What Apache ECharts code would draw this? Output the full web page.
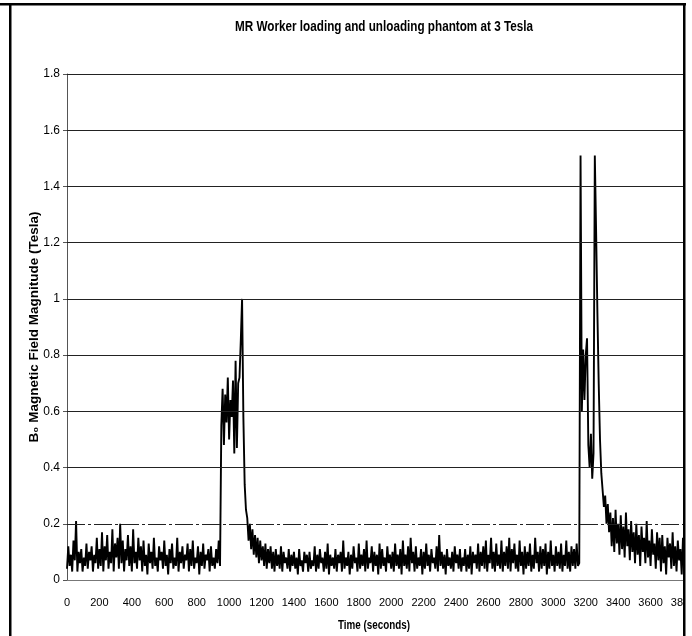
<!DOCTYPE html>
<html>
<head>
<meta charset="utf-8" />
<title>MR Worker loading and unloading phantom at 3 Tesla</title>
<script src="https://cdn.jsdelivr.net/npm/echarts@6/dist/echarts.min.js"></script>
<style>
  html, body { margin: 0; padding: 0; background: #fff; }
  #chart { width: 692px; height: 636px; }
</style>
</head>
<body>
<div id="chart"></div>
<script>
// logger sample interval (seconds)
const sampleStep = 8;

// y grid positions (Tesla)
const yTicks = [0.2, 0.4, 0.6, 0.8, 1.0, 1.2, 1.4, 1.6, 1.8];

// B0 readings in Tesla, one stretch at a time
// 0 - 944 s, before the phantom is moved
const quietBefore = [
  0.04, 0.12, 0.05, 0.09, 0.03, 0.14, 0.07, 0.21, 0.03, 0.10,
  0.06, 0.11, 0.03, 0.08, 0.05, 0.13, 0.04, 0.10, 0.07, 0.12,
  0.03, 0.09, 0.06, 0.15, 0.04, 0.11, 0.05, 0.17, 0.03, 0.12,
  0.07, 0.16, 0.04, 0.10, 0.06, 0.18, 0.03, 0.13, 0.08, 0.15,
  0.04, 0.20, 0.06, 0.14, 0.03, 0.11, 0.07, 0.16, 0.05, 0.12,
  0.03, 0.18, 0.06, 0.10, 0.04, 0.15, 0.07, 0.12, 0.03, 0.14,
  0.05, 0.09, 0.02, 0.13, 0.06, 0.10, 0.04, 0.15, 0.05, 0.08,
  0.03, 0.12, 0.07, 0.10, 0.04, 0.14, 0.05, 0.09, 0.02, 0.11,
  0.06, 0.13, 0.04, 0.08, 0.05, 0.15, 0.03, 0.10, 0.06, 0.12,
  0.04, 0.09, 0.07, 0.13, 0.03, 0.11, 0.05, 0.14, 0.04, 0.08,
  0.06, 0.12, 0.02, 0.10, 0.05, 0.13, 0.04, 0.09, 0.07, 0.11,
  0.03, 0.12, 0.05, 0.08, 0.04, 0.11, 0.06, 0.14, 0.05,
];
// 952 - 1240 s, loading
const loading = [
  0.55, 0.68, 0.48, 0.66, 0.56, 0.72, 0.50, 0.64, 0.58, 0.71,
  0.45, 0.78, 0.47, 0.70, 0.72, 0.85, 1.00, 0.58, 0.34, 0.25,
  0.22, 0.14, 0.20, 0.11, 0.18, 0.09, 0.16, 0.08, 0.15, 0.06,
  0.14, 0.07, 0.12, 0.05, 0.13, 0.04, 0.11,
];
// 1248 - 3152 s, phantom on the table
const quietMiddle = [
  0.06, 0.12, 0.04, 0.10, 0.03, 0.11, 0.05, 0.09, 0.04, 0.12,
  0.03, 0.10, 0.06, 0.08, 0.04, 0.11, 0.03, 0.09, 0.05, 0.10,
  0.04, 0.08, 0.02, 0.11, 0.05, 0.07, 0.03, 0.10, 0.06, 0.09,
  0.03, 0.10, 0.04, 0.07, 0.05, 0.12, 0.03, 0.09, 0.04, 0.11,
  0.06, 0.08, 0.03, 0.10, 0.04, 0.13, 0.02, 0.09, 0.05, 0.08,
  0.04, 0.11, 0.03, 0.09, 0.06, 0.10, 0.03, 0.14, 0.04, 0.08,
  0.05, 0.10, 0.02, 0.09, 0.04, 0.12, 0.06, 0.08, 0.03, 0.13,
  0.04, 0.09, 0.05, 0.11, 0.03, 0.14, 0.04, 0.08, 0.06, 0.12,
  0.03, 0.10, 0.05, 0.09, 0.02, 0.13, 0.04, 0.11, 0.05, 0.08,
  0.03, 0.12, 0.06, 0.09, 0.04, 0.10, 0.03, 0.13, 0.05, 0.09,
  0.04, 0.11, 0.02, 0.14, 0.05, 0.09, 0.04, 0.12, 0.03, 0.15,
  0.06, 0.10, 0.03, 0.12, 0.04, 0.08, 0.05, 0.11, 0.02, 0.10,
  0.04, 0.13, 0.05, 0.09, 0.03, 0.11, 0.06, 0.08, 0.04, 0.12,
  0.03, 0.16, 0.05, 0.10, 0.04, 0.09, 0.02, 0.11, 0.05, 0.08,
  0.04, 0.10, 0.03, 0.12, 0.06, 0.09, 0.04, 0.11, 0.03, 0.08,
  0.05, 0.11, 0.03, 0.09, 0.04, 0.12, 0.02, 0.10, 0.06, 0.09,
  0.04, 0.13, 0.03, 0.10, 0.05, 0.12, 0.04, 0.14, 0.03, 0.09,
  0.06, 0.15, 0.04, 0.10, 0.03, 0.13, 0.05, 0.09, 0.04, 0.14,
  0.03, 0.10, 0.05, 0.12, 0.04, 0.15, 0.03, 0.11, 0.06, 0.13,
  0.04, 0.09, 0.03, 0.14, 0.05, 0.10, 0.02, 0.12, 0.04, 0.10,
  0.05, 0.13, 0.03, 0.09, 0.04, 0.15, 0.06, 0.10, 0.03, 0.12,
  0.04, 0.11, 0.05, 0.13, 0.02, 0.10, 0.04, 0.14, 0.05, 0.09,
  0.03, 0.12, 0.05, 0.10, 0.04, 0.13, 0.03, 0.09, 0.05, 0.14,
  0.04, 0.10, 0.03, 0.12, 0.05, 0.11, 0.04, 0.13, 0.05,
];
// 3160 - 3344 s, unloading (two passes through the bore)
const unloading = [
  0.06, 1.51, 0.60, 0.82, 0.64, 0.80, 0.86, 0.48, 0.40, 0.52,
  0.36, 0.45, 1.51, 1.24, 0.95, 0.70, 0.50, 0.38, 0.32, 0.26,
  0.30, 0.20, 0.27, 0.17,
];
// 3352 - 3840 s, walking away
const tail = [
  0.24, 0.12, 0.22, 0.10, 0.25, 0.13, 0.20, 0.09, 0.23, 0.11,
  0.19, 0.08, 0.24, 0.12, 0.18, 0.07, 0.21, 0.10, 0.17, 0.06,
  0.20, 0.09, 0.16, 0.05, 0.19, 0.10, 0.15, 0.06, 0.21, 0.08,
  0.14, 0.05, 0.18, 0.09, 0.13, 0.04, 0.17, 0.07, 0.15, 0.03,
  0.16, 0.06, 0.12, 0.02, 0.15, 0.08, 0.13, 0.04, 0.17, 0.05,
  0.12, 0.03, 0.14, 0.07, 0.11, 0.02, 0.15, 0.05, 0.13, 0.04,
  0.12, 0.06,
];

const readings = [].concat(quietBefore, loading, quietMiddle, unloading, tail);
const seriesData = readings.map((v, i) => [i * sampleStep, v]);

const sans = "'Liberation Sans', Arial, sans-serif";

const chart = echarts.init(document.getElementById("chart"), null, { renderer: "canvas" });

chart.setOption({
  backgroundColor: "#fff",
  animation: false,
  grid: {
    left: 67,
    right: 9,
    top: 74,
    bottom: 56,
    containLabel: false,
    outerBoundsMode: "none",
  },
  xAxis: {
    type: "value",
    min: 0,
    max: 3800,
    interval: 200,
    axisLine: {
      show: true,
      onZero: false,
      lineStyle: { color: "#777", width: 1 },
    },
    axisTick: { show: false },
    splitLine: { show: false },
    axisLabel: {
      margin: 17,
      color: "#000",
      fontFamily: sans,
      fontSize: 11,
      formatter: (v) => String(v),
      showMaxLabel: true,
    },
  },
  yAxis: {
    type: "value",
    min: 0,
    max: 1.8,
    interval: 0.2,
    name: "B₀ Magnetic Field Magnitude (Tesla)",
    nameLocation: "middle",
    nameGap: 26,
    nameRotate: 90,
    nameMoveOverlap: false,
    nameTextStyle: {
      fontFamily: sans,
      fontSize: 13.5,
      fontWeight: "bold",
      color: "#000",
    },
    axisLine: {
      show: true,
      lineStyle: { color: "#555", width: 1 },
    },
    axisTick: {
      show: true,
      length: 4,
      lineStyle: { color: "#555" },
    },
    // grid lines come from the markLine below (0.2 one is dash-dot)
    splitLine: { show: false },
    axisLabel: {
      margin: 7,
      color: "#000",
      fontFamily: sans,
      fontSize: 12,
    },
  },
  series: [
    {
      name: "B0",
      type: "line",
      data: seriesData,
      showSymbol: false,
      sampling: "none",
      clip: true,
      lineStyle: { color: "#000", width: 1.9 },
      markLine: {
        silent: true,
        symbol: ["none", "none"],
        label: { show: false },
        emphasis: { disabled: true },
        data: yTicks.map((v) => ({
          yAxis: v,
          lineStyle: {
            color: "#222",
            width: 1,
            type: v === 0.2 ? [18, 3, 3, 3] : "solid",
          },
        })),
      },
    },
  ],
  graphic: [
    // chart title, squeezed like the original narrow face
    {
      type: "text",
      x: 384,
      y: 27,
      scaleX: 0.78,
      z: 50,
      style: {
        text: "MR Worker loading and unloading phantom at 3 Tesla",
        font: "bold 15px " + sans,
        fill: "#000",
        align: "center",
        verticalAlign: "middle",
      },
    },
    // x axis title
    {
      type: "text",
      x: 374,
      y: 626,
      scaleX: 0.82,
      z: 50,
      style: {
        text: "Time (seconds)",
        font: "bold 12px " + sans,
        fill: "#000",
        align: "center",
        verticalAlign: "middle",
      },
    },
    // page frame around the figure
    { type: "rect", z: 100, shape: { x: 685, y: 0, width: 7, height: 636 }, style: { fill: "#fff" } },
    { type: "rect", z: 101, shape: { x: 0, y: 3, width: 686, height: 2.5 }, style: { fill: "#000" } },
    { type: "rect", z: 101, shape: { x: 9, y: 4, width: 2.5, height: 632 }, style: { fill: "#000" } },
    { type: "rect", z: 101, shape: { x: 683, y: 4, width: 2.5, height: 632 }, style: { fill: "#000" } },
  ],
});
</script>
</body>
</html>
